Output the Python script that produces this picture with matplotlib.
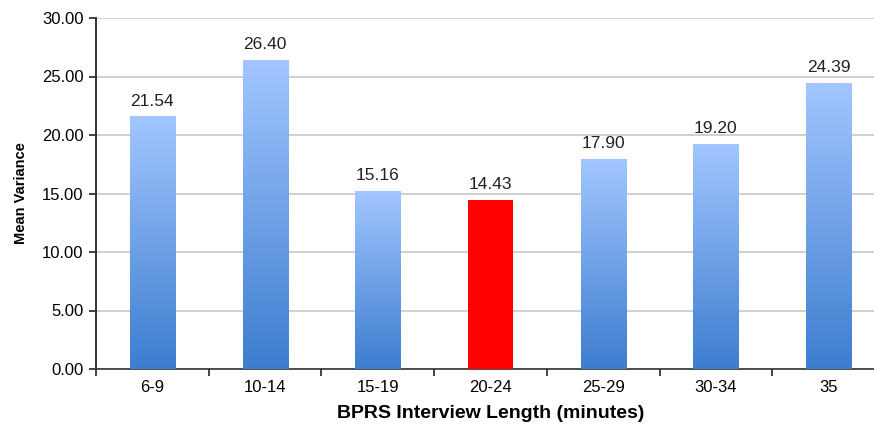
import numpy as np
import matplotlib.pyplot as plt
from matplotlib.colors import LinearSegmentedColormap

categories = ['6-9', '10-14', '15-19', '20-24', '25-29', '30-34', '35']
values = [21.54, 26.40, 15.16, 14.43, 17.90, 19.20, 24.39]
highlight = '20-24'

plt.rcParams['font.family'] = ['Liberation Sans', 'DejaVu Sans']

fig = plt.figure(figsize=(8.74, 4.24), dpi=100)
ax = fig.add_axes([96 / 874, 55 / 424, 789 / 874, 351 / 424])

blues = LinearSegmentedColormap.from_list('bl', ['#3d7dcf', '#a2c6ff'])
grad = np.linspace(0, 1, 256).reshape(-1, 1)
width = 0.4

x = np.arange(len(categories))
for i, (c, v) in enumerate(zip(categories, values)):
    if c == highlight:
        ax.bar(i, v, width=width, color='#ff0000', zorder=3)
    else:
        ax.imshow(grad, cmap=blues, origin='lower', aspect='auto',
                  extent=(i - width / 2, i + width / 2, 0, v), zorder=3)
    ax.text(i, v + 0.7, f'{v:.2f}', ha='center', va='bottom', fontsize=12.5,
            color='#222222', zorder=4)

ax.set_xlim(-0.5, len(categories) - 0.5)
ax.set_ylim(0, 30)
ax.set_yticks(np.arange(0, 30.1, 5))
ax.set_yticklabels([f'{t:.2f}' for t in np.arange(0, 30.1, 5)], fontsize=12)
ax.set_xticks(x)
ax.set_xticklabels(categories, fontsize=12)
ax.set_xticks(np.arange(-0.5, len(categories), 1), minor=True)
ax.tick_params(axis='x', which='major', length=0, pad=8)
ax.tick_params(axis='x', which='minor', length=5, width=1.2, color='#222222')
ax.tick_params(axis='y', length=5, width=1.2, color='#222222', pad=4)
ax.grid(axis='y', color='#c8c8c8', linewidth=1.2, zorder=0)
ax.set_axisbelow(True)

for s in ['top', 'right']:
    ax.spines[s].set_visible(False)
ax.spines['left'].set_color('#333333')
ax.spines['left'].set_linewidth(1.4)
ax.spines['bottom'].set_color('#333333')
ax.spines['bottom'].set_linewidth(1.2)

ax.set_ylabel('Mean Variance', fontsize=10.5, fontweight='bold', labelpad=10)
ax.set_xlabel('BPRS Interview Length (minutes)', fontsize=14,
              fontweight='bold', labelpad=7)

fig.savefig('out.png', dpi=100)
